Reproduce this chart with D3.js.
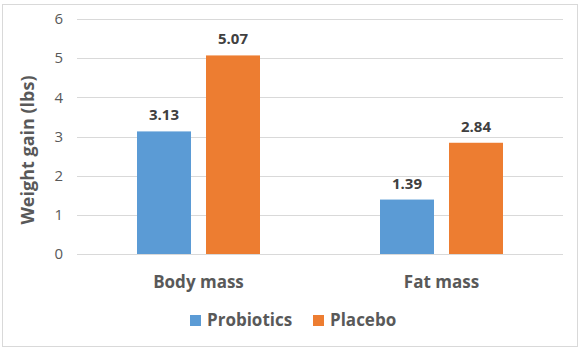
<!DOCTYPE html>
<html><head><meta charset="utf-8">
<script src="https://cdn.jsdelivr.net/npm/d3@7"></script>
<style>body{margin:0;background:#fff}svg{display:block}text{font-family:"Open Sans",sans-serif}</style>
</head><body>
<svg id="c" width="580" height="349"></svg>
<script>
const categories = ["Body mass", "Fat mass"];
const seriesNames = ["Probiotics", "Placebo"];
const probiotics = [3.13, 1.39];
const placebo = [5.07, 2.84];
const yTicks = [0, 1, 2, 3, 4, 5, 6];
const colors = ["#5B9BD5", "#ED7D31"];

const svg = d3.select("#c");
svg.append("rect").attr("x",2.5).attr("y",4.5).attr("width",575).attr("height",342)
  .attr("fill","#fff").attr("stroke","#d9d9d9");

const pLeft = 77, pRight = 563, pTop = 19, pBottom = 254;
const y = d3.scaleLinear().domain([0,6]).range([pBottom, pTop]);
const x0 = d3.scaleBand().domain(categories).range([pLeft, pRight]).padding(0);
const groupW = 123;
const x1 = d3.scaleBand().domain(seriesNames).range([0, groupW]).paddingInner(15/69).paddingOuter(0);

// gridlines
svg.append("g").selectAll("line").data(yTicks).join("line")
  .attr("x1", pLeft).attr("x2", pRight)
  .attr("y1", d => Math.round(y(d))+0.5).attr("y2", d => Math.round(y(d))+0.5)
  .attr("stroke", "#d9d9d9").attr("stroke-width", 1);

// y tick labels
svg.append("g").selectAll("text").data(yTicks).join("text")
  .attr("x", 63).attr("y", d => y(d)).attr("dy","0.35em")
  .attr("text-anchor","end").attr("font-size", 15).attr("fill","#595959")
  .text(d => d);

const rows = categories.map((c,i) => ({cat:c, vals:[probiotics[i], placebo[i]]}));
const g = svg.append("g").selectAll("g").data(rows).join("g")
  .attr("transform", d => `translate(${x0(d.cat) + (x0.bandwidth()-groupW)/2},0)`);
g.selectAll("rect").data(d => d.vals.map((v,j)=>({s:seriesNames[j], v, j}))).join("rect")
  .attr("x", d => x1(d.s)).attr("width", x1.bandwidth())
  .attr("y", d => y(d.v)).attr("height", d => y(0) - y(d.v))
  .attr("fill", d => colors[d.j]);
g.selectAll("text").data(d => d.vals.map((v,j)=>({s:seriesNames[j], v, j}))).join("text")
  .attr("x", d => x1(d.s) + x1.bandwidth()/2).attr("y", d => y(d.v) - 11)
  .attr("text-anchor","middle").attr("font-size",15).attr("font-weight","bold").attr("fill","#404040")
  .text(d => d.v.toFixed(2));

// category labels
svg.append("g").selectAll("text").data(categories).join("text")
  .attr("x", d => x0(d) + x0.bandwidth()/2).attr("y", 288)
  .attr("text-anchor","middle").attr("font-size",17).attr("font-weight","bold").attr("fill","#595959")
  .text(d => d);

// y title
svg.append("text").attr("transform","translate(34,150) rotate(-90)")
  .attr("text-anchor","middle").attr("font-size",18).attr("font-weight","bold").attr("fill","#595959")
  .text("Weight gain (lbs)");

// legend
const legX = [190, 313];
const lg = svg.append("g").selectAll("g").data(seriesNames).join("g")
  .attr("transform", (d,i) => `translate(${legX[i]},315)`);
lg.append("rect").attr("width",11).attr("height",11).attr("fill",(d,i)=>colors[i]);
lg.append("text").attr("x",17).attr("y",5.5).attr("dy","0.35em")
  .attr("font-size",17).attr("font-weight","bold").attr("fill","#595959").text(d=>d);
</script>
</body></html>
